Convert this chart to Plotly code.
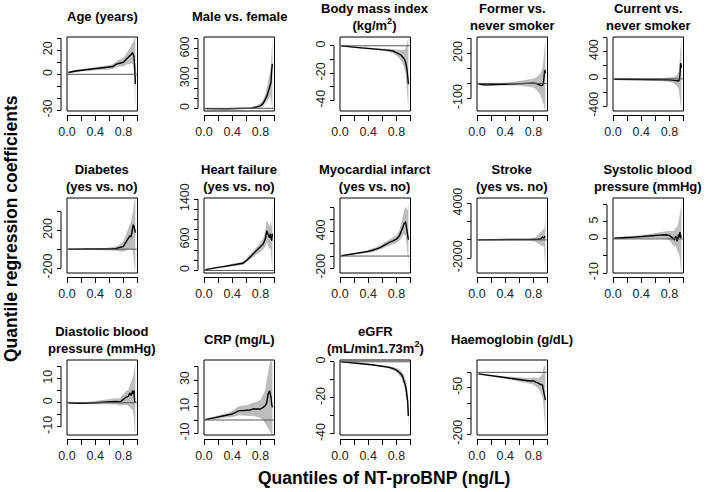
import plotly.graph_objects as go

# ---------------- data ----------------
quantiles = [0.02, 0.05, 0.10, 0.15, 0.20, 0.25, 0.30, 0.35, 0.40, 0.45, 0.50, 0.55, 0.60,
             0.65, 0.70, 0.75, 0.80, 0.84, 0.87, 0.89, 0.91, 0.93, 0.94, 0.95, 0.96, 0.97]

age_coef = [1.5, 2.0, 2.5, 3.0, 3.3, 3.7, 4.0, 4.4, 4.8, 5.0, 5.2, 5.3, 5.7, 6.5, 8.5, 9.5, 10.0, 12.5, 14.0, 15.5, 16.5, 18.0, 17.0, 15.0, 6.0, -8.0]
age_lo = [0.7, 1.2, 1.6, 2.0, 2.3, 2.7, 2.9, 3.2, 3.5, 3.6, 3.7, 3.7, 3.9, 4.5, 6.0, 6.5, 6.5, 8.0, 8.5, 9.0, 9.0, 9.0, 7.0, 3.0, -14.0, -30.0]
age_hi = [2.3, 2.8, 3.4, 4.0, 4.3, 4.7, 5.1, 5.6, 6.1, 6.4, 6.7, 6.9, 7.5, 8.5, 11.0, 12.5, 13.5, 17.0, 19.5, 22.0, 24.0, 27.0, 28.0, 29.0, 30.0, 30.0]

male_coef = [-3, -4, -5, -5, -6, -6, -6, -5, -5, -4, -3, -2, 0, 2, 5, 12, 25, 50, 85, 120, 165, 215, 235, 260, 380, 450]
male_lo = [-10, -10, -11, -11, -12, -12, -12, -12, -12, -11, -10, -10, -9, -8, -6, -2, 5, 20, 40, 60, 80, 110, 120, 100, 50, -30]
male_hi = [4, 3, 2, 1, 0, 0, 0, 2, 2, 3, 5, 6, 9, 12, 18, 28, 50, 90, 140, 200, 260, 340, 380, 450, 650, 700]

bmi_coef = [-0.1, -0.3, -0.6, -0.9, -1.1, -1.3, -1.5, -1.7, -1.9, -2.0, -2.1, -2.3, -2.6, -3.0, -3.3, -3.8, -4.8, -6.0, -7.0, -8.0, -9.5, -12.0, -14.0, -17.0, -22.0, -28.0]
bmi_lo = [-0.5, -0.7, -1.0, -1.3, -1.5, -1.8, -2.0, -2.2, -2.5, -2.7, -2.8, -3.1, -3.5, -4.0, -4.5, -5.3, -7.0, -9.0, -11.0, -13.0, -16.0, -20.0, -24.0, -30.0, -40.0, -46.0]
bmi_hi = [0.3, 0.1, -0.2, -0.5, -0.7, -0.8, -1.0, -1.2, -1.3, -1.3, -1.4, -1.5, -1.7, -2.0, -2.1, -2.3, -2.6, -3.0, -3.0, -3.0, -3.0, -2.0, -1.0, 1.0, 4.0, 6.0]

former_coef = [-3, -6, -8, -9, -8, -7, -6, -5, -4, -3, -1, 0, 1, 2, 2, 3, 2, 0, -5, -10, -15, -12, 0, 40, 90, 70]
former_lo = [-10, -13, -15, -16, -15, -14, -13, -13, -13, -13, -12, -13, -14, -16, -18, -22, -27, -40, -55, -70, -90, -110, -130, -150, -175, -185]
former_hi = [4, 1, -1, -2, -1, 0, 1, 3, 5, 7, 10, 13, 16, 20, 23, 28, 32, 40, 50, 60, 80, 110, 150, 220, 280, 300]

current_coef = [-5, -5, -6, -7, -7, -8, -8, -8, -9, -9, -9, -10, -10, -10, -11, -12, -15, -18, -22, -25, -28, -30, -20, 60, 230, 160]
current_lo = [-15, -15, -16, -17, -18, -19, -20, -21, -22, -23, -24, -26, -28, -30, -33, -37, -45, -55, -70, -85, -110, -150, -200, -300, -400, -420]
current_hi = [5, 5, 4, 3, 4, 4, 5, 5, 5, 6, 7, 8, 10, 12, 14, 16, 18, 22, 30, 40, 60, 100, 160, 350, 580, 600]

diab_coef = [0, 0, -1, -1, -2, -2, -2, -2, -2, -1, 0, 1, 2, 4, 7, 15, 30, 80, 120, 140, 135, 200, 260, 245, 200, 175]
diab_lo = [-3, -3, -4, -4, -5, -6, -6, -7, -8, -8, -9, -10, -12, -15, -20, -25, -25, -15, 0, 5, -10, 0, -60, -140, -200, -230]
diab_hi = [3, 3, 2, 2, 1, 2, 2, 3, 4, 5, 8, 12, 16, 22, 32, 50, 85, 160, 220, 260, 300, 380, 450, 520, 530, 530]

hf_coef = [15, 25, 40, 50, 60, 70, 80, 90, 100, 110, 120, 140, 190, 260, 320, 390, 450, 520, 620, 780, 700, 640, 720, 600, 580, 720]
hf_lo = [5, 15, 28, 37, 46, 55, 63, 71, 80, 88, 95, 110, 150, 210, 260, 320, 360, 410, 470, 560, 480, 420, 450, 350, 300, -30]
hf_hi = [25, 35, 52, 63, 74, 85, 97, 109, 120, 132, 145, 170, 230, 310, 380, 460, 540, 630, 770, 1000, 920, 860, 980, 850, 880, 1400]

mi_coef = [5, 10, 18, 27, 35, 45, 55, 65, 78, 92, 110, 130, 160, 195, 225, 250, 280, 330, 400, 470, 540, 560, 500, 440, 360, 270]
mi_lo = [-5, 0, 7, 15, 22, 30, 38, 46, 55, 65, 80, 95, 120, 150, 175, 195, 215, 250, 300, 340, 360, 330, 250, 150, 20, -250]
mi_hi = [15, 20, 29, 39, 48, 60, 72, 84, 101, 119, 140, 165, 200, 240, 275, 305, 345, 420, 530, 640, 760, 820, 800, 760, 750, 920]

stroke_coef = [0, 0, 0, 0, 0, 0, 0, 0, 0, 0, 0, 0, 5, 10, 15, 20, 30, 50, 80, 100, 150, 300, 250, 200, 350, 300]
stroke_lo = [-20, -20, -20, -20, -25, -25, -25, -30, -30, -35, -40, -45, -55, -65, -80, -100, -150, -250, -400, -500, -600, -600, -700, -800, -1000, -3600]
stroke_hi = [20, 20, 20, 20, 25, 25, 25, 30, 30, 35, 40, 45, 65, 85, 110, 140, 210, 350, 560, 700, 900, 1100, 1200, 1200, 1500, 4500]

sbp_coef = [0.2, 0.2, 0.3, 0.35, 0.4, 0.45, 0.5, 0.55, 0.6, 0.7, 0.8, 0.9, 1.0, 1.1, 1.2, 1.2, 1.0, 0.4, -0.2, 0.8, -0.7, 1.3, 0.5, 2.0, 0.3, 1.0]
sbp_lo = [-0.1, -0.1, 0.0, 0.05, 0.05, 0.1, 0.1, 0.1, 0.1, 0.15, 0.2, 0.25, 0.3, 0.3, 0.3, 0.1, -0.4, -1.3, -2.2, -2.0, -3.5, -4.0, -5.0, -6.0, -9.0, -10.0]
sbp_hi = [0.5, 0.5, 0.6, 0.65, 0.75, 0.8, 0.9, 1.0, 1.1, 1.25, 1.4, 1.55, 1.7, 1.9, 2.1, 2.3, 2.4, 2.3, 2.5, 3.3, 3.5, 5.0, 6.0, 7.0, 9.0, 11.0]

dbp_coef = [0.0, -0.1, -0.2, -0.3, -0.3, -0.3, -0.2, -0.1, 0.0, 0.1, 0.2, 0.3, 0.4, 0.5, 0.5, 0.3, 1.6, 2.3, 2.6, 4.0, 3.0, 5.0, 3.7, 5.0, 0.3, 0.5]
dbp_lo = [-0.5, -0.6, -0.7, -0.8, -0.8, -0.8, -0.8, -0.7, -0.7, -0.7, -0.7, -0.7, -0.7, -0.7, -0.8, -1.2, -1.2, -1.0, -1.2, -1.8, -2.5, -3.0, -4.0, -6.0, -12.0, -13.0]
dbp_hi = [0.5, 0.4, 0.3, 0.2, 0.2, 0.2, 0.4, 0.5, 0.7, 0.9, 1.1, 1.3, 1.5, 1.7, 1.8, 1.8, 3.8, 5.0, 5.5, 7.0, 8.0, 10.0, 11.0, 13.0, 16.0, 17.0]

crp_coef = [0.3, 0.6, 1.0, 1.5, 2.0, 2.6, 3.2, 3.8, 4.5, 5.7, 7.0, 7.0, 7.0, 7.5, 8.2, 8.0, 8.2, 9.5, 10.8, 13.0, 19.5, 22.0, 20.0, 17.0, 12.0, 9.5]
crp_lo = [-0.2, 0.0, 0.3, 0.6, 1.0, 1.2, 1.6, 1.9, 2.2, 2.8, 3.5, 3.2, 3.0, 3.0, 3.2, 2.5, 1.5, 0.0, -2.0, -4.0, -6.0, -8.0, -9.0, -10.0, -11.0, -11.0]
crp_hi = [0.8, 1.2, 1.7, 2.4, 3.0, 4.0, 4.8, 5.7, 6.8, 8.6, 10.5, 10.8, 11.0, 12.0, 13.2, 13.5, 15.0, 19.0, 23.0, 30.0, 38.0, 42.0, 44.0, 44.0, 44.0, 40.0]

egfr_coef = [0.0, -0.1, -0.3, -0.4, -0.5, -0.7, -0.8, -1.0, -1.3, -1.6, -1.9, -2.1, -2.4, -2.7, -3.1, -3.7, -4.6, -5.8, -7.0, -8.5, -10.5, -13.5, -15.7, -18.5, -22.0, -30.0]
egfr_lo = [-0.2, -0.3, -0.5, -0.6, -0.7, -0.9, -1.0, -1.2, -1.5, -1.9, -2.2, -2.5, -2.9, -3.3, -3.8, -4.6, -5.8, -7.5, -9.0, -11.0, -13.5, -17.0, -20.0, -23.0, -28.0, -37.0]
egfr_hi = [0.2, 0.1, -0.1, -0.2, -0.3, -0.5, -0.6, -0.8, -1.1, -1.3, -1.6, -1.7, -1.9, -2.1, -2.4, -2.8, -3.4, -4.1, -5.0, -6.0, -7.5, -10.0, -11.5, -14.0, -16.0, -23.0]

hb_coef = [-5, -6, -8, -10, -11, -12, -14, -15, -16, -18, -20, -21, -23, -25, -27, -28, -28, -32, -35, -38, -40, -42, -55, -65, -79, -90]
hb_lo = [-7, -8, -10, -12, -13, -15, -17, -18, -20, -22, -25, -27, -29, -32, -35, -37, -40, -46, -52, -60, -68, -80, -100, -120, -150, -195]
hb_hi = [-3, -4, -6, -8, -9, -10, -11, -12, -13, -14, -15, -16, -17, -18, -19, -19, -16, -18, -18, -16, -12, -5, 10, 25, 20, 20]

titles = ["Age (years)", "Male vs. female", "Body mass index<br>(kg/m<sup>2</sup>)",
          "Former vs.<br>never smoker", "Current vs.<br>never smoker",
          "Diabetes<br>(yes vs. no)", "Heart failure<br>(yes vs. no)",
          "Myocardial infarct<br>(yes vs. no)", "Stroke<br>(yes vs. no)",
          "Systolic blood<br>pressure (mmHg)", "Diastolic blood<br>pressure (mmHg)",
          "CRP (mg/L)", "eGFR<br>(mL/min1.73m<sup>2</sup>)", "Haemoglobin (g/dL)"]

x_ticks = [0.0, 0.2, 0.4, 0.6, 0.8, 1.0]
x_tick_labels = ["0.0", "", "0.4", "", "0.8", ""]

y_ticks = [
    [-30, -20, -10, 0, 10, 20, 30],
    [0, 100, 200, 300, 400, 500, 600, 700],
    [-40, -30, -20, -10, 0],
    [-100, 0, 100, 200, 300],
    [-400, -200, 0, 200, 400, 600],
    [-200, 0, 200, 400],
    [0, 200, 400, 600, 800, 1000, 1200, 1400],
    [-200, 0, 200, 400, 600, 800],
    [-2000, 0, 2000, 4000],
    [-10, -5, 0, 5, 10],
    [-10, -5, 0, 5, 10, 15],
    [-10, 0, 10, 20, 30, 40],
    [-40, -30, -20, -10, 0],
    [-200, -150, -100, -50, 0],
]
y_tick_labels = [
    ["-30", "", "", "0", "", "20", ""],
    ["0", "", "", "300", "", "", "600", ""],
    ["-40", "", "-20", "", "0"],
    ["-100", "", "", "200", ""],
    ["-400", "", "0", "", "400", ""],
    ["-200", "", "200", ""],
    ["0", "", "", "600", "", "", "", "1400"],
    ["-200", "", "", "400", "", ""],
    ["-2000", "", "", "4000"],
    ["-10", "", "0", "5", ""],
    ["-10", "", "0", "", "10", ""],
    ["-10", "", "10", "", "30", ""],
    ["-40", "", "-20", "", "0"],
    ["-200", "", "", "-50", ""],
]
y_ranges = [
    [-30.5, 31], [-27, 720], [-47.5, 6.4], [-183, 309], [-470, 612],
    [-253, 544], [-50, 1420], [-280, 960], [-3630, 4600], [-10, 12],
    [-13.4, 17.7], [-11.25, 45], [-40.6, 1], [-203, 40],
]

series = [
    (age_coef, age_lo, age_hi), (male_coef, male_lo, male_hi), (bmi_coef, bmi_lo, bmi_hi),
    (former_coef, former_lo, former_hi), (current_coef, current_lo, current_hi),
    (diab_coef, diab_lo, diab_hi), (hf_coef, hf_lo, hf_hi), (mi_coef, mi_lo, mi_hi),
    (stroke_coef, stroke_lo, stroke_hi), (sbp_coef, sbp_lo, sbp_hi),
    (dbp_coef, dbp_lo, dbp_hi), (crp_coef, crp_lo, crp_hi), (egfr_coef, egfr_lo, egfr_hi),
    (hb_coef, hb_lo, hb_hi),
]

# ---------------- layout geometry (pixels) ----------------
W, H = 709, 492
col_left = [67, 204, 340, 477, 613]
box_w = 70.5
row_top = [37, 198, 360]
row_h = [74, 75, 75]

def px(x):
    return x / W

def py(y):
    return 1 - y / H

def labelled(vals, labels):
    pairs = [(v, t) for v, t in zip(vals, labels) if t]
    return [p[0] for p in pairs], [p[1] for p in pairs]

TITLE_FONT = dict(family="Liberation Sans, Arial, sans-serif", size=13, color="black")
TICK_FONT = dict(family="Liberation Sans Narrow, Arial Narrow, Liberation Sans, Arial", size=12.5, color="#222")
BAND = "#bdbdbd"

fig = go.Figure()
layout = dict(template="none", width=W, height=H, autosize=False,
              margin=dict(l=0, r=0, t=0, b=0, pad=0),
              paper_bgcolor="white", plot_bgcolor="white", showlegend=False)
shapes = []
annotations = []

xv, xt = labelled(x_ticks, x_tick_labels)

for i, (coef, lo, hi) in enumerate(series):
    r, c = divmod(i, 5)
    k = "" if i == 0 else str(i + 1)
    left = col_left[c]
    right = left + box_w
    top = row_top[r]
    bottom = top + row_h[r]

    fig.add_trace(go.Scatter(
        x=quantiles + quantiles[::-1], y=hi + lo[::-1],
        fill="toself", fillcolor=BAND, line=dict(width=0, color=BAND),
        mode="lines", hoverinfo="skip", xaxis="x" + k, yaxis="y" + k))
    fig.add_trace(go.Scatter(
        x=quantiles, y=coef, mode="lines",
        line=dict(color="black", width=1.4), xaxis="x" + k, yaxis="y" + k))

    layout["xaxis" + k] = dict(
        domain=[px(left), px(right)], range=[0, 1], anchor="free",
        position=py(bottom + 4), tickmode="array", tickvals=xv, ticktext=xt,
        ticks="outside", ticklen=5, tickcolor="black", showline=True,
        minor=dict(tickmode="array", tickvals=x_ticks, ticks="outside", ticklen=5,
                   tickcolor="black", showgrid=False),
        linecolor="black", linewidth=1, showgrid=False, zeroline=False,
        tickfont=TICK_FONT, fixedrange=True, automargin=False)
    yv, yt = labelled(y_ticks[i], y_tick_labels[i])
    ypos = px(left - 6)
    layout["yaxis" + k] = dict(
        domain=[py(bottom), py(top)], range=y_ranges[i], anchor="free",
        position=ypos, tickmode="array", tickvals=yv, ticktext=yt,
        ticks="outside", ticklen=4, tickcolor="black", tickangle=-90,
        minor=dict(tickmode="array", tickvals=y_ticks[i], ticks="outside", ticklen=4,
                   tickcolor="black", showgrid=False),
        showline=False, showgrid=False, zeroline=False, tickfont=TICK_FONT,
        fixedrange=True, automargin=False)

    # box
    shapes.append(dict(type="rect", xref="x" + k + " domain", yref="y" + k + " domain",
                       x0=0, x1=1, y0=0, y1=1, line=dict(color="black", width=1)))
    # zero reference line
    shapes.append(dict(type="line", xref="x" + k + " domain", yref="y" + k,
                       x0=0, x1=1, y0=0, y1=0, line=dict(color="#555", width=1)))
    # R-style y axis line spanning the tick range
    shapes.append(dict(type="line", xref="paper", yref="y" + k,
                       x0=ypos, x1=ypos, y0=min(y_ticks[i]), y1=max(y_ticks[i]),
                       line=dict(color="black", width=1)))

    annotations.append(dict(
        text="<b>" + titles[i] + "</b>", x=px((left + right) / 2), y=py(top - 20.5),
        xref="paper", yref="paper", xanchor="center", yanchor="middle",
        showarrow=False, font=TITLE_FONT))

annotations.append(dict(
    text="<b>Quantile regression coefficients</b>", x=px(11), y=py(229),
    xref="paper", yref="paper", xanchor="center", yanchor="middle", textangle=-90,
    showarrow=False, font=dict(family="Liberation Sans, Arial, sans-serif", size=17.5, color="black")))
annotations.append(dict(
    text="<b>Quantiles of NT-proBNP (ng/L)</b>", x=px(383.5), y=py(478),
    xref="paper", yref="paper", xanchor="center", yanchor="middle",
    showarrow=False, font=dict(family="Liberation Sans, Arial, sans-serif", size=17.5, color="black")))

layout["shapes"] = shapes
layout["annotations"] = annotations
fig.update_layout(**layout)
fig.write_html("out.html", config={"displayModeBar": False},
               post_script="document.body.style.margin='0';")
